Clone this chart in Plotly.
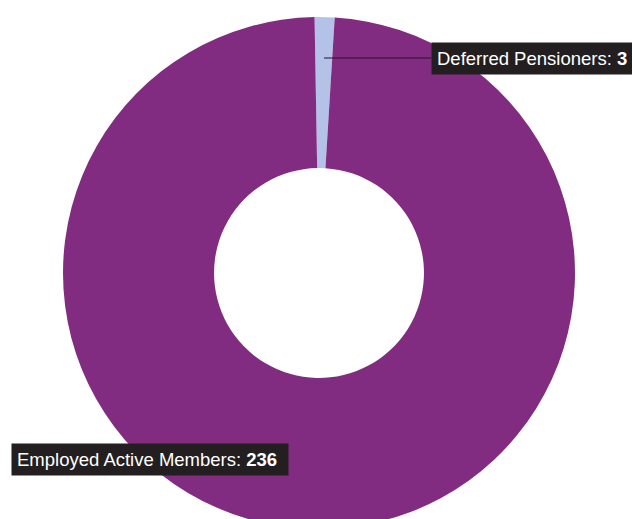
import plotly.graph_objects as go

labels = ["Deferred Pensioners", "Employed Active Members"]
values = [3, 236]
colors = ["#B3C2E6", "#812C81"]

W, H = 632, 540

fig = go.Figure(
    go.Pie(
        labels=labels,
        values=values,
        hole=0.41,
        sort=False,
        direction="clockwise",
        rotation=-1,
        marker=dict(colors=colors, line=dict(width=0)),
        textinfo="none",
        hoverinfo="skip",
        showlegend=False,
        domain=dict(x=[63 / W, 575 / W], y=[11 / H, 523 / H]),
    )
)

font = dict(family="Liberation Sans, Arial, sans-serif", size=18.5, color="white")

fig.add_annotation(
    x=324 / W, y=1 - 58 / H, xref="paper", yref="paper",
    text=f"{labels[0]}: <b>{values[0]}</b>",
    showarrow=True, arrowhead=0, arrowwidth=1, arrowcolor="#2a1030",
    ax=107, ay=0, xanchor="left", yanchor="middle",
    width=191, align="left",
    bgcolor="#231F20", font=font, borderpad=5,
)
fig.add_annotation(
    x=11 / W, y=1 - 459 / H, xref="paper", yref="paper",
    xanchor="left", yanchor="middle",
    text=f"{labels[1]}: <b>{values[1]}</b>",
    showarrow=False, width=266, align="left",
    bgcolor="#231F20", font=font, borderpad=5,
)

fig.update_layout(
    width=W, height=H,
    margin=dict(l=0, r=0, t=0, b=0),
    paper_bgcolor="white", plot_bgcolor="white",
)

fig.write_html("out.html", config={"displayModeBar": False})
